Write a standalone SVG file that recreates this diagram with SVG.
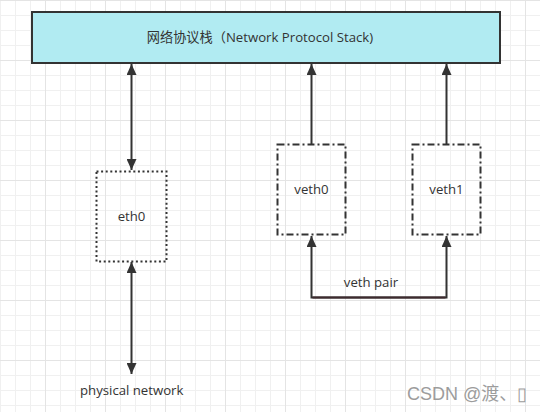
<svg xmlns="http://www.w3.org/2000/svg" width="540" height="412" viewBox="0 0 540 412">
<style>
text{font-family:"Open Sans","Noto Sans CJK SC",sans-serif;fill:#333;font-size:13.2px}
.c{text-anchor:middle}
.conn{stroke:#333;stroke-width:2;fill:none}
.wm{font-family:"Liberation Sans","Noto Sans CJK SC",sans-serif;font-size:18px;fill:#9c9c9c}
</style>
<defs>
<pattern id="minor" width="15" height="15" patternUnits="userSpaceOnUse">
<rect x="0" y="0" width="1" height="15" fill="#f0f0f0"/>
<rect x="0" y="0" width="15" height="1" fill="#f0f0f0"/>
</pattern>
<pattern id="major" x="45" y="0" width="60" height="60" patternUnits="userSpaceOnUse">
<rect x="0" y="0" width="1" height="60" fill="#e4e4e4"/>
<rect x="0" y="0" width="60" height="1" fill="#e4e4e4"/>
</pattern>
<marker id="ah" viewBox="0 0 11 10" refX="11" refY="5" markerWidth="11" markerHeight="10" markerUnits="userSpaceOnUse" orient="auto-start-reverse">
<path d="M0,0 L11,5 L0,10 Z" fill="#333"/>
</marker>
</defs>
<rect width="540" height="412" fill="#fff"/>
<rect width="540" height="412" fill="url(#minor)"/>
<rect width="540" height="412" fill="url(#major)"/>

<g id="connectors">
<line class="conn" x1="131.5" y1="64" x2="131.5" y2="170" marker-start="url(#ah)" marker-end="url(#ah)"/>
<line class="conn" x1="131.5" y1="262" x2="131.5" y2="374" marker-start="url(#ah)" marker-end="url(#ah)"/>
<line class="conn" x1="311.5" y1="144" x2="311.5" y2="64" marker-end="url(#ah)"/>
<line class="conn" x1="446.5" y1="144" x2="446.5" y2="64" marker-end="url(#ah)"/>
<polyline class="conn" points="311.5,236 311.5,297.5 446.5,297.5 446.5,236" marker-start="url(#ah)" marker-end="url(#ah)"/>
<line x1="312.5" y1="297.5" x2="445.5" y2="297.5" stroke="#3e2a2e" stroke-width="2"/>
<text class="c" x="371" y="287">veth pair</text>
</g>

<g id="stack">
<rect x="32" y="12" width="468" height="51" fill="#b1ebf2" stroke="#333" stroke-width="2"/>
<text class="c" x="260" y="42">网络协议栈（Network Protocol Stack)</text>
</g>

<g id="eth0">
<rect x="96.5" y="171.5" width="70" height="90" fill="none" stroke="#333" stroke-width="2" stroke-dasharray="2 2.6"/>
<text class="c" x="131.5" y="221">eth0</text>
</g>

<g id="veth0">
<rect x="277.5" y="144.5" width="68" height="90" fill="none" stroke="#333" stroke-width="2" stroke-dasharray="7 3 2 3"/>
<text class="c" x="311.5" y="194">veth0</text>
</g>

<g id="veth1">
<rect x="412.5" y="144.5" width="68" height="90" fill="none" stroke="#333" stroke-width="2" stroke-dasharray="7 3 2 3"/>
<text class="c" x="446.5" y="194">veth1</text>
</g>

<g id="physical">
<text x="80" y="395">physical network</text>
</g>

<text class="wm" x="407" y="400">CSDN @渡、▯</text>
</svg>
